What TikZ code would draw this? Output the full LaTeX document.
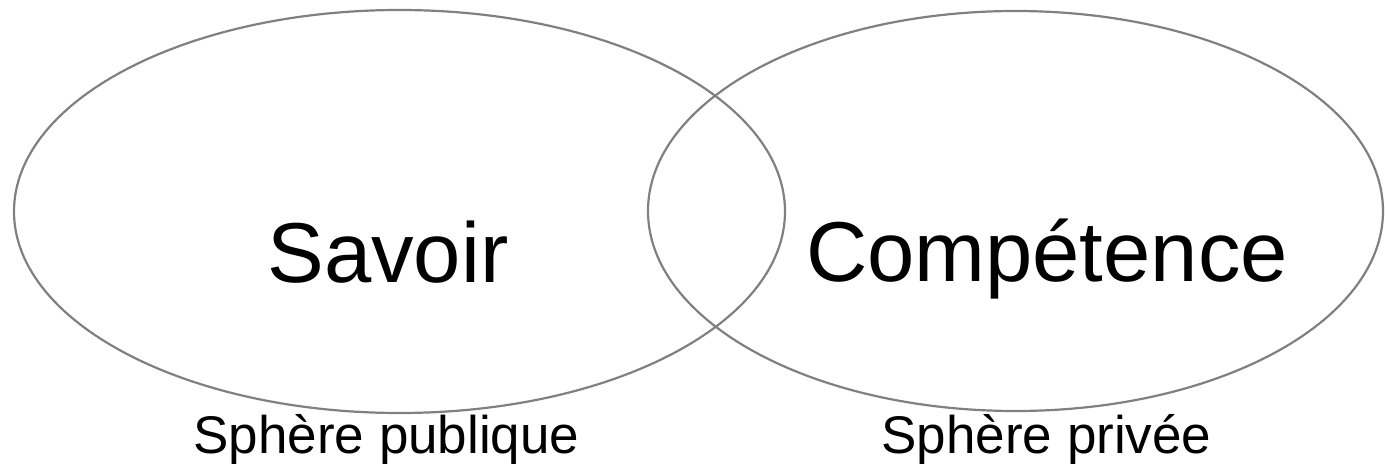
\documentclass[tikz,border=0pt]{standalone}
\usepackage{fontspec}
\setmainfont{Liberation Sans}
\usetikzlibrary{shapes.geometric}
\definecolor{ringgray}{RGB}{128,128,128}
\begin{document}
\begin{tikzpicture}[x=1pt,y=-1pt,
  ring/.style={ellipse,draw=ringgray,line width=2.2pt,inner sep=0pt},
  bigtxt/.style={anchor=base,inner sep=0pt,font=\fontsize{85}{100}\selectfont},
  smalltxt/.style={anchor=base,inner sep=0pt,font=\fontsize{53}{62}\selectfont}]
\useasboundingbox (0,0) rectangle (1385,465);
\node[ring,minimum width=771pt,minimum height=403pt] (lefte) at (399.5,211.5) {};
\node[ring,minimum width=735pt,minimum height=400pt] (righte) at (1015.5,211) {};
\node[bigtxt] (savoir) at (388,283) {Savoir};
\node[bigtxt] (competence) at (1047,282) {Compétence};
\node[smalltxt] (publique) at (386.5,453) {Sphère publique};
\node[smalltxt] (privee) at (1046.5,453) {Sphère privée};
\end{tikzpicture}
\end{document}
